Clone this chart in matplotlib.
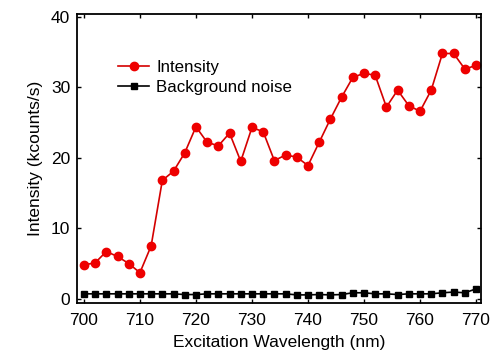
import numpy as np
import matplotlib.pyplot as plt

plt.rcParams['font.family'] = ['Liberation Sans', 'DejaVu Sans']

# excitation wavelength (nm), 2 nm steps
wavelength = np.arange(700, 771, 2)

intensity = [4.8, 5.1, 6.7, 6.0, 5.0, 3.7, 7.5, 16.8, 18.1, 20.7,
             24.4, 22.2, 21.7, 23.5, 19.5, 24.3, 23.7, 19.6, 20.4, 20.1,
             18.9, 22.2, 25.5, 28.6, 31.4, 32.0, 31.7, 27.2, 29.6, 27.4,
             26.6, 29.6, 34.8, 34.8, 32.6, 33.1]

background = [0.7, 0.7, 0.7, 0.7, 0.7, 0.7, 0.7, 0.7, 0.7, 0.6,
              0.6, 0.7, 0.7, 0.7, 0.7, 0.7, 0.7, 0.7, 0.7, 0.55,
              0.55, 0.6, 0.55, 0.6, 0.85, 0.85, 0.7, 0.7, 0.6, 0.7,
              0.7, 0.7, 0.85, 0.95, 0.85, 1.4]

fig = plt.figure(figsize=(4.98, 3.55), dpi=100)
ax = fig.add_axes([0.155, 0.1465, 0.811, 0.814])

ax.plot(wavelength, intensity, color="#d40000", marker="o", markersize=6,
        markerfacecolor="#ee0000", markeredgecolor="#ee0000",
        linewidth=1.2, label="Intensity")
ax.plot(wavelength, background, color="black", marker="s", markersize=5,
        linewidth=1.2, label="Background noise")

ax.set_xlim(698.8, 770.9)
ax.set_ylim(-0.6, 40.4)
ax.set_xticks(range(700, 771, 10))
ax.set_yticks(range(0, 41, 10))
ax.tick_params(direction="in", length=3, width=1, labelsize=12.5,
               top=True, right=True, pad=5)
ax.tick_params(axis="x", pad=7)
for s in ax.spines.values():
    s.set_linewidth(1.3)

ax.set_xlabel("Excitation Wavelength (nm)", fontsize=12.5, labelpad=5)
ax.set_ylabel("Intensity (kcounts/s)", fontsize=12.5, labelpad=6)

ax.legend(loc="upper left", bbox_to_anchor=(0.085, 0.865), frameon=False,
          fontsize=12.2, handlelength=1.8, handletextpad=0.45, labelspacing=0.3,
          borderaxespad=0)

fig.savefig("out.png", dpi=100)
